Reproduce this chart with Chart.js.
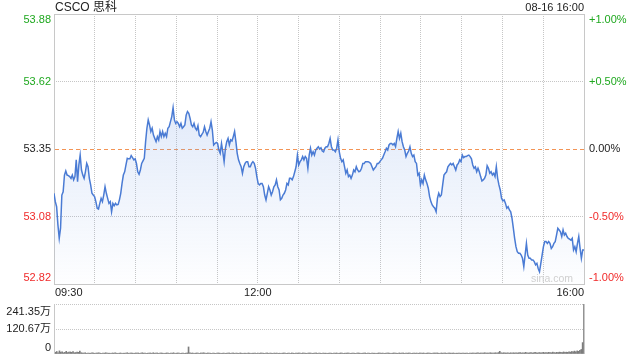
<!DOCTYPE html>
<html>
<head>
<meta charset="utf-8">
<script src="https://cdn.jsdelivr.net/npm/chart.js@4.4.1/dist/chart.umd.min.js"></script>
<style>
  html, body { margin: 0; padding: 0; background: #fff; }
  #wrap { position: relative; width: 640px; height: 360px; }
  canvas { position: absolute; left: 0; }
</style>
</head>
<body>
<div id="wrap">
  <canvas id="priceChart" width="640" height="300" style="top:0"></canvas>
  <canvas id="volChart" width="640" height="60" style="top:300px"></canvas>
</div>
<script>
// CSCO 思科, 08-16 intraday
const title = "CSCO 思科";
const stamp = "08-16 16:00";
const prevClose = 53.35;

const pctSteps    = [-0.01, -0.005, 0, 0.005, 0.01];
const leftLabels  = ["52.82", "53.08", "53.35", "53.62", "53.88"];
const rightLabels = ["-1.00%", "-0.50%", "0.00%", "+0.50%", "+1.00%"];

const timeTicks  = [0, 150, 390];          // minutes after 09:30
const timeLabels = ["09:30", "12:00", "16:00"];

// price, left to right (roughly one per minute)
const prices = [
  53.175, 53.142, 53.122, 53.050, 52.997, 53.037, 53.168, 53.181, 53.247, 53.263,
  53.247, 53.245, 53.241, 53.234, 53.247, 53.228, 53.241, 53.307, 53.221, 53.287,
  53.326, 53.267, 53.247, 53.234, 53.260, 53.293, 53.280, 53.234, 53.208, 53.175,
  53.168, 53.162, 53.142, 53.116, 53.113, 53.135, 53.155, 53.142, 53.168, 53.201,
  53.175, 53.155, 53.135, 53.142, 53.102, 53.135, 53.126, 53.135, 53.129, 53.131,
  53.149, 53.175, 53.214, 53.247, 53.260, 53.287, 53.313, 53.311, 53.311, 53.324,
  53.316, 53.307, 53.311, 53.293, 53.260, 53.250, 53.267, 53.293, 53.303, 53.313,
  53.379, 53.432, 53.465, 53.445, 53.419, 53.432, 53.405, 53.392, 53.379, 53.399,
  53.386, 53.419, 53.399, 53.419, 53.399, 53.412, 53.399, 53.432, 53.438, 53.458,
  53.478, 53.513, 53.465, 53.451, 53.458, 53.451, 53.438, 53.451,
  53.432, 53.438, 53.445, 53.484, 53.498, 53.491, 53.471, 53.445, 53.438, 53.451,
  53.432, 53.425, 53.442, 53.405, 53.399, 53.408, 53.416, 53.438, 53.419, 53.405,
  53.419, 53.432, 53.458, 53.425, 53.366, 53.372, 53.376, 53.372, 53.346, 53.333,
  53.372, 53.339, 53.300, 53.353, 53.379, 53.392, 53.366, 53.386, 53.382, 53.399,
  53.419, 53.379, 53.333, 53.307, 53.293, 53.280, 53.254, 53.280, 53.293, 53.300,
  53.300, 53.280, 53.280, 53.293, 53.300, 53.293, 53.274, 53.241, 53.214, 53.208,
  53.214, 53.214, 53.201, 53.168, 53.149, 53.175, 53.201, 53.188, 53.168, 53.181,
  53.201, 53.208, 53.228, 53.201, 53.188, 53.149, 53.155, 53.168, 53.175, 53.188,
  53.214, 53.208, 53.234, 53.234, 53.228, 53.241, 53.260, 53.280, 53.326, 53.287,
  53.300, 53.307, 53.320, 53.307, 53.320, 53.313, 53.274, 53.326,
  53.353, 53.326, 53.339, 53.326, 53.346, 53.353, 53.359, 53.350, 53.355, 53.342,
  53.339, 53.353, 53.359, 53.359, 53.372, 53.392, 53.359, 53.346, 53.346, 53.339,
  53.353, 53.386, 53.339, 53.313, 53.300, 53.307, 53.280, 53.254, 53.267, 53.241,
  53.247, 53.234, 53.247, 53.267, 53.260, 53.280, 53.267, 53.260, 53.263, 53.274,
  53.293, 53.293, 53.300, 53.300, 53.300, 53.297, 53.293, 53.280, 53.267, 53.274,
  53.280, 53.293, 53.293, 53.300, 53.307, 53.313, 53.326, 53.339, 53.353, 53.346,
  53.366, 53.372, 53.372, 53.366, 53.372, 53.359, 53.392, 53.419, 53.392, 53.412,
  53.379, 53.359, 53.346, 53.320, 53.333, 53.342, 53.359, 53.333, 53.320, 53.326,
  53.300, 53.293, 53.247, 53.254, 53.208, 53.228, 53.214, 53.247, 53.228, 53.214,
  53.195, 53.162, 53.142, 53.129, 53.122, 53.116, 53.102, 53.155, 53.175, 53.162,
  53.168, 53.208, 53.247, 53.254, 53.260, 53.280,
  53.287, 53.293, 53.287, 53.293, 53.280, 53.267, 53.287, 53.293, 53.307, 53.300,
  53.326, 53.316, 53.320, 53.320, 53.324, 53.326, 53.320, 53.311, 53.287, 53.274,
  53.280, 53.260, 53.274, 53.260, 53.241, 53.224, 53.228, 53.234, 53.247, 53.284,
  53.274, 53.254, 53.260, 53.247, 53.254, 53.241, 53.280, 53.234, 53.208, 53.188,
  53.155, 53.145, 53.149, 53.135, 53.116, 53.122, 53.109, 53.102, 53.076, 53.037,
  52.997, 52.964, 52.944, 52.938, 52.938, 52.931, 52.918, 52.885, 52.931, 52.977,
  52.931, 52.918, 52.918, 52.911, 52.911, 52.905, 52.892, 52.898, 52.878, 52.865,
  52.898, 52.931, 52.964, 52.984, 52.984, 52.977, 52.984, 52.977, 52.957, 52.964,
  52.977, 52.984, 53.010, 53.037, 53.030, 53.023, 53.004, 53.030, 53.010, 53.017,
  53.004, 52.997, 52.994, 52.990, 52.997, 52.951, 52.964, 52.944, 52.977, 53.004,
  52.957, 52.918, 52.951, 52.951
];

// volume per minute, in 万
const volumes = [
  29, 8, 12, 6, 15, 9, 11, 6, 8, 13, 7, 9, 10, 8, 12, 6, 7, 9, 8, 14, 6,
  5, 4, 6, 3, 5, 4, 4, 6, 5, 3, 4, 5, 6, 4, 3, 5, 4, 6, 5, 4,
  4, 3, 5, 4, 6, 4, 3, 4, 5, 3, 4, 4, 5, 6, 3, 4, 5, 4, 3, 5,
  4, 5, 3, 4, 6, 4, 5, 3, 4, 4, 5, 3, 6, 4, 4, 5, 3, 4, 5, 4,
  3, 4, 5, 4, 3, 5, 4, 6, 3, 4, 5, 4, 3, 4, 5, 3, 4, 5,
  34,
  6, 4, 5, 3, 4, 5, 4, 3, 5, 4, 6, 4, 3, 5, 4, 4, 3, 5, 4, 3, 4,
  5, 4, 3, 4, 5, 3, 4, 4, 5, 3, 4, 5, 3, 4, 4, 3, 5, 4, 3, 4,
  4, 3, 5, 4, 3, 4, 4, 5, 3, 4, 3, 5, 4, 4, 3, 4, 5, 3, 4, 4,
  3, 4, 4, 5, 3, 4, 3, 4, 5, 4, 3, 4, 4, 3, 5, 4, 3, 4, 4, 5,
  4, 3, 5, 4, 4, 3, 4, 5, 4, 3, 4, 4, 5, 3, 4, 4, 3, 5, 4, 4,
  3, 4, 5, 4, 3, 4, 4, 5, 3, 4, 5, 4, 3, 4, 4, 5, 4, 3, 4, 5,
  4, 3, 4, 5, 4, 3, 4, 4, 5, 3, 4, 4, 3, 5, 4, 4, 3, 4, 5, 4,
  4, 5, 3, 4, 4, 5, 4, 3, 4, 5, 4, 4, 3, 5, 4, 4, 5, 3, 4, 4,
  5, 4, 3, 4, 5, 4, 4, 3, 5, 4, 4, 5, 3, 4, 5, 4, 4, 3, 4, 5,
  4, 5, 4, 3, 5, 4, 4, 5, 3, 4, 5, 4, 4, 5, 3, 4, 4, 5, 4, 4,
  5, 4, 4, 5, 3, 5, 4, 5, 4, 4, 5, 6, 4, 5, 4, 5, 6, 4, 5, 5,
  6, 5, 4, 5, 6, 5, 7, 13, 6, 5, 6, 5, 5, 6, 4, 6, 5, 6, 5, 6,
  5, 6, 7, 5, 6, 5, 8, 6, 5, 6, 7, 5, 6, 8, 6, 5, 7, 6, 6, 8,
  6, 7, 6, 8, 7, 6, 9, 7, 6, 8, 7, 9, 8, 7, 10, 8, 9, 8, 10, 9,
  12, 10, 14, 11, 15, 13, 18, 22, 55,
  241.35
];
const volTicks  = [0, 120.67, 241.35];
const volLabels = ["0", "120.67万", "241.35万"];

const FONT = '"Liberation Sans", Arial, "Noto Sans CJK SC", sans-serif';
const GREEN = "#1fa81f";
const RED = "#f02a2a";
const DARK = "#222222";
const GRID = "#c6c6c6";
const FRAME = "#c8c8c8";
const CLOSE_LINE = "#f39455";

const pricePoints = prices.map((p, i) => ({ x: i * 390 / (prices.length - 1), y: p }));
const volPoints = volumes.map((v, i) => ({ x: i * 390 / (volumes.length - 1), y: v }));

// frame, previous-close line and all the text for the price panel
const priceDecor = {
  id: "priceDecor",
  beforeDatasetsDraw(chart) {
    const { ctx, chartArea: a, scales: { y } } = chart;
    ctx.save();
    ctx.strokeStyle = FRAME;
    ctx.lineWidth = 1;
    ctx.strokeRect(a.left + 0.5, a.top + 0.5, a.right - a.left, a.bottom - a.top);

    const cy = Math.round(y.getPixelForValue(prevClose)) + 0.5;
    ctx.strokeStyle = CLOSE_LINE;
    ctx.setLineDash([4, 3]);
    ctx.beginPath();
    ctx.moveTo(a.left + 1, cy);
    ctx.lineTo(a.right, cy);
    ctx.stroke();
    ctx.restore();
  },
  afterDraw(chart) {
    const { ctx, chartArea: a, scales: { x, y } } = chart;
    ctx.save();
    ctx.textBaseline = "middle";

    ctx.font = "12px " + FONT;
    ctx.fillStyle = DARK;
    ctx.textAlign = "left";
    ctx.fillText(title, a.left + 1, 8);
    ctx.font = "11px " + FONT;
    ctx.textAlign = "right";
    ctx.fillText(stamp, a.right, 8);

    pctSteps.forEach((p, i) => {
      let py = y.getPixelForValue(prevClose * (1 + p));
      if (i === 0) py -= 6;
      if (i === pctSteps.length - 1) py += 6;
      ctx.fillStyle = p > 0 ? GREEN : (p < 0 ? RED : DARK);
      ctx.textAlign = "right";
      ctx.fillText(leftLabels[i], a.left - 3, py);
      ctx.textAlign = "left";
      ctx.fillText(rightLabels[i], a.right + 5, py);
    });

    ctx.fillStyle = DARK;
    timeTicks.forEach((t, i) => {
      const px = x.getPixelForValue(t);
      ctx.textAlign = i === 0 ? "left" : (i === timeTicks.length - 1 ? "right" : "center");
      ctx.fillText(timeLabels[i], i === 0 ? px + 1 : px, a.bottom + 9);
    });

    ctx.font = "10.5px " + FONT;
    ctx.fillStyle = "#d0d0d0";
    ctx.textAlign = "right";
    ctx.fillText("sina.com", a.right - 11, a.bottom - 5);
    ctx.restore();
  }
};

new Chart(document.getElementById("priceChart"), {
  type: "line",
  data: {
    datasets: [{
      data: pricePoints,
      borderColor: "#4a7bd4",
      borderWidth: 1.5,
      pointRadius: 0,
      tension: 0,
      fill: "start",
      backgroundColor: (c) => {
        const a = c.chart.chartArea;
        if (!a) return "rgba(120,160,230,0.2)";
        const g = c.chart.ctx.createLinearGradient(0, a.top, 0, a.bottom);
        g.addColorStop(0, "rgba(120,160,230,0.32)");
        g.addColorStop(1, "rgba(120,160,230,0.01)");
        return g;
      }
    }]
  },
  options: {
    responsive: false,
    animation: false,
    events: [],
    layout: { padding: { left: 54, right: 56, top: 14, bottom: 16 } },
    plugins: { legend: { display: false }, tooltip: { enabled: false } },
    scales: {
      x: {
        type: "linear", min: 0, max: 390,
        ticks: { display: false, stepSize: 30 },
        grid: {
          drawTicks: false,
          color: (c) => (c.tick.value <= 0 || c.tick.value >= 390) ? "rgba(0,0,0,0)" : GRID
        },
        border: { display: false, dash: [1, 1] }
      },
      y: {
        type: "linear",
        min: prevClose * (1 + pctSteps[0]),
        max: prevClose * (1 + pctSteps[pctSteps.length - 1]),
        afterBuildTicks: (s) => { s.ticks = pctSteps.map(p => ({ value: prevClose * (1 + p) })); },
        ticks: { display: false },
        grid: {
          drawTicks: false,
          color: (c) => (c.index === 0 || c.index === 2 || c.index === 4) ? "rgba(0,0,0,0)" : GRID
        },
        border: { display: false, dash: [1, 1] }
      }
    }
  },
  plugins: [priceDecor]
});

const volDecor = {
  id: "volDecor",
  afterDraw(chart) {
    const { ctx, chartArea: a, scales: { y } } = chart;
    ctx.save();
    ctx.strokeStyle = FRAME;
    ctx.lineWidth = 1;
    ctx.beginPath();
    ctx.moveTo(a.left + 0.5, a.top);
    ctx.lineTo(a.left + 0.5, a.bottom);
    ctx.moveTo(a.right + 0.5, a.top);
    ctx.lineTo(a.right + 0.5, a.bottom);
    ctx.stroke();

    ctx.font = "11px " + FONT;
    ctx.fillStyle = DARK;
    ctx.textAlign = "right";
    ctx.textBaseline = "middle";
    volTicks.forEach((v, i) => {
      let py = y.getPixelForValue(v);
      if (i === 0) py -= 6;
      if (i === volTicks.length - 1) py += 7.5;
      ctx.fillText(volLabels[i], a.left - 3, py);
    });
    ctx.restore();
  }
};

new Chart(document.getElementById("volChart"), {
  type: "bar",
  data: {
    datasets: [{
      data: volPoints,
      backgroundColor: "#7d7d7d",
      barThickness: 1
    }]
  },
  options: {
    responsive: false,
    animation: false,
    events: [],
    layout: { padding: { left: 54, right: 56, top: 4, bottom: 6 } },
    plugins: { legend: { display: false }, tooltip: { enabled: false } },
    scales: {
      x: { type: "linear", min: 0, max: 390, offset: false, display: false },
      y: {
        min: 0, max: volTicks[volTicks.length - 1],
        afterBuildTicks: (s) => { s.ticks = volTicks.map(v => ({ value: v })); },
        ticks: { display: false },
        grid: { drawTicks: false, color: (c) => c.index === 0 ? "rgba(0,0,0,0)" : GRID },
        border: { display: false, dash: [1, 1] }
      }
    }
  },
  plugins: [volDecor]
});
</script>
</body>
</html>
